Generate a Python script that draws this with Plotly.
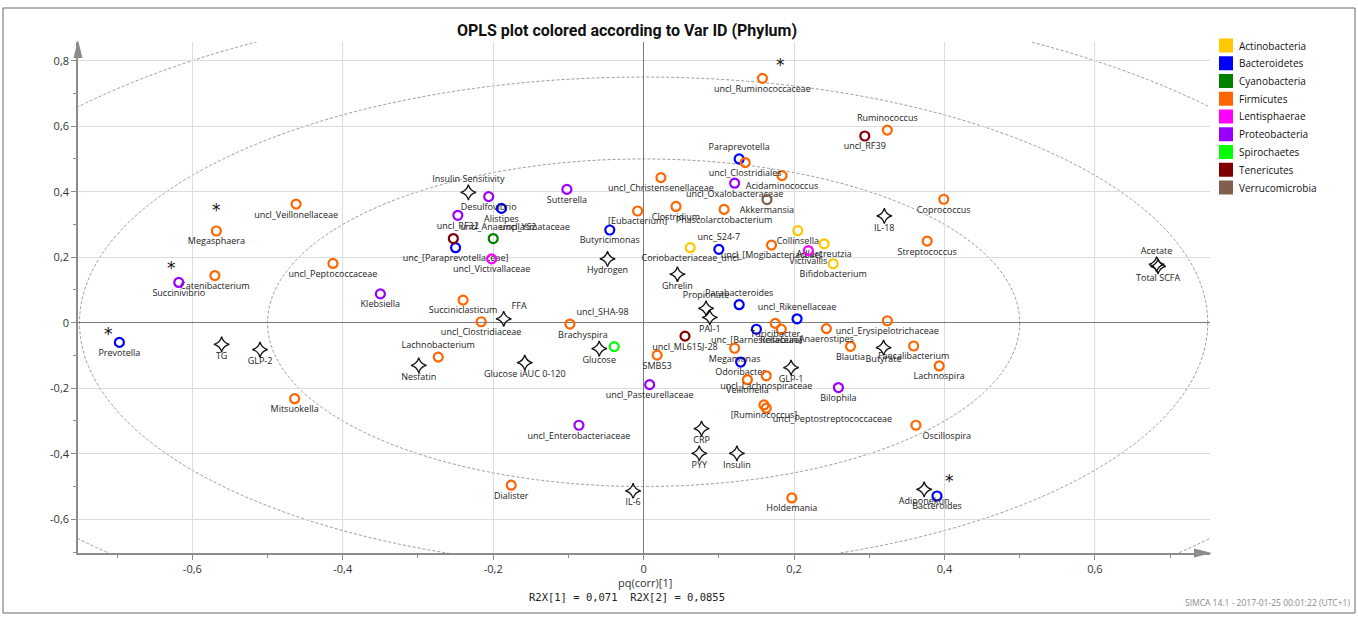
import plotly.graph_objects as go

# ---------------- data ----------------
phyla = ["Actinobacteria", "Bacteroidetes", "Cyanobacteria", "Firmicutes", "Lentisphaerae",
         "Proteobacteria", "Spirochaetes", "Tenericutes", "Verrucomicrobia"]
phylum_colors = ["#FFC800", "#0000FF", "#008000", "#FF6600", "#FF00FF",
                 "#9900FF", "#00FF00", "#800000", "#80604D"]

taxa = [
    "Coriobacteriaceae_uncl", "Collinsella", "Adlercreutzia", "Bifidobacterium",
    "Prevotella", "Alistipes", "unc_[Paraprevotellaceae]", "Butyricimonas", "Paraprevotella", "unc_S24-7",
    "Parabacteroides", "uncl_Rikenellaceae", "unc_[Barnesiellaceae]", "Odoribacter", "Bacteroides",
    "uncl_YS2",
    "uncl_Veillonellaceae", "Megasphaera", "Catenibacterium", "uncl_Peptococcaceae", "Mitsuokella",
    "Succiniclasticum", "uncl_Clostridiaceae", "uncl_SHA-98", "Lachnobacterium", "SMB53", "Dialister",
    "[Eubacterium]", "uncl_Christensenellaceae", "Clostridium", "Phascolarctobacterium", "uncl_Clostridiales",
    "Acidaminococcus", "uncl_Ruminococcaceae", "Ruminococcus", "uncl_[Mogibacteriaceae]", "Coprococcus",
    "Streptococcus", "uncl_Erysipelotrichaceae", "Turicibacter", "Roseburia", "Anaerostipes", "Megamonas",
    "Blautia", "Faecalibacterium", "Lachnospira", "uncl_Lachnospiraceae", "Veillonella", "[Ruminococcus]",
    "uncl_Peptostreptococcaceae", "Oscillospira", "Holdemania",
    "uncl_Victivallaceae", "Victivallis",
    "Succinivibrio", "Desulfovibrio", "uncl_RF32", "Sutterella", "Klebsiella", "uncl_Pasteurellaceae",
    "uncl_Enterobacteriaceae", "uncl_Oxalobacteraceae", "Bilophila",
    "Brachyspira",
    "uncl_Anaeroplasmataceae", "uncl_ML615J-28", "uncl_RF39",
    "Akkermansia",
]
taxa_phylum = (["Actinobacteria"] * 4 + ["Bacteroidetes"] * 11 + ["Cyanobacteria"] * 1 +
               ["Firmicutes"] * 36 + ["Lentisphaerae"] * 2 + ["Proteobacteria"] * 9 +
               ["Spirochaetes"] * 1 + ["Tenericutes"] * 3 + ["Verrucomicrobia"] * 1)
taxa_x = [
    0.062, 0.205, 0.240, 0.252,
    -0.697, -0.189, -0.250, -0.045, 0.127, 0.100, 0.127, 0.204, 0.150, 0.129, 0.390,
    -0.200,
    -0.462, -0.568, -0.570, -0.413, -0.464, -0.240, -0.216, -0.098, -0.273, 0.018, -0.176,
    -0.008, 0.023, 0.043, 0.107, 0.135, 0.184, 0.158, 0.324, 0.170, 0.399,
    0.377, 0.324, 0.175, 0.183, 0.243, 0.121, 0.275, 0.359, 0.393, 0.163, 0.138, 0.160,
    0.163, 0.362, 0.197,
    -0.202, 0.219,
    -0.618, -0.206, -0.247, -0.102, -0.350, 0.008, -0.086, 0.121, 0.259,
    -0.039,
    -0.253, 0.055, 0.294,
    0.164,
]
taxa_y = [
    0.229, 0.281, 0.241, 0.180,
    -0.060, 0.349, 0.229, 0.283, 0.500, 0.224, 0.055, 0.012, -0.020, -0.120, -0.529,
    0.257,
    0.362, 0.280, 0.144, 0.181, -0.232, 0.069, 0.003, -0.004, -0.105, -0.099, -0.496,
    0.341, 0.443, 0.355, 0.346, 0.489, 0.449, 0.746, 0.588, 0.237, 0.377,
    0.249, 0.006, -0.002, -0.020, -0.018, -0.078, -0.072, -0.071, -0.132, -0.162, -0.174, -0.251,
    -0.261, -0.313, -0.535,
    0.195, 0.220,
    0.123, 0.385, 0.328, 0.407, 0.088, -0.189, -0.313, 0.426, -0.198,
    -0.073,
    0.257, -0.041, 0.570,
    0.376,
]

clinical = ["Insulin Sensitivity", "Hydrogen", "FFA", "TG", "GLP-2", "Nesfatin", "Glucose iAUC 0-120",
            "Glucose", "IL-6", "Ghrelin", "Propionate", "PAI-1", "IL-18", "Acetate", "Total SCFA",
            "GLP-1", "Butyrate", "CRP", "PYY", "Insulin", "Adiponektin"]
clinical_x = [-0.233, -0.048, -0.186, -0.561, -0.510, -0.299, -0.158, -0.059, -0.014, 0.045, 0.083,
              0.088, 0.320, 0.682, 0.684, 0.196, 0.319, 0.077, 0.074, 0.124, 0.373]
clinical_y = [0.398, 0.195, 0.012, -0.066, -0.082, -0.130, -0.122, -0.079, -0.513, 0.148, 0.044,
              0.016, 0.326, 0.178, 0.172, -0.137, -0.076, -0.323, -0.399, -0.399, -0.509]

significant = ["Megasphaera", "Succinivibrio", "Prevotella", "uncl_Ruminococcaceae", "Bacteroides"]

x_ticks = [-0.6, -0.4, -0.2, 0, 0.2, 0.4, 0.6]
x_ticktext = ["-0,6", "-0,4", "-0,2", "0", "0,2", "0,4", "0,6"]
y_ticks = [-0.6, -0.4, -0.2, 0, 0.2, 0.4, 0.6, 0.8]
y_ticktext = ["-0,6", "-0,4", "-0,2", "0", "0,2", "0,4", "0,6", "0,8"]
circle_radii = [0.5, 0.75, 1.0]

title_text = "OPLS plot colored according to Var ID (Phylum)"
x_title = "pq(corr)[1]"
r2x_text = "R2X[1] = 0,071  R2X[2] = 0,0855"
footer_text = "SIMCA 14.1 - 2017-01-25 00:01:22 (UTC+1)"

# ---------------- styles ----------------
label_pos = {
    "Insulin Sensitivity": "top center", "Ruminococcus": "top center", "Paraprevotella": "top center",
    "unc_S24-7": "top center", "Parabacteroides": "top center", "uncl_Rikenellaceae": "top center",
    "Propionate": "top center", "Acetate": "top center", "Lachnobacterium": "top center",
    "Brachyspira": "top left", "uncl_Anaeroplasmataceae": "top right", "uncl_YS2": "top right",
    "FFA": "top right", "uncl_SHA-98": "top right", "Oscillospira": "bottom right",
    "uncl_Peptostreptococcaceae": "bottom right",
}
star_offsets = {  # pixel offsets of the significance asterisks
    "Megasphaera": (0, 21), "Succinivibrio": (-7, 14), "Prevotella": (-11, 8),
    "uncl_Ruminococcaceae": (18, 13), "Bacteroides": (13, 15),
}
FONT = "Open Sans"
XR = [-0.752, 0.753]
YR = [-0.703, 0.857]
L, R, T, B = 78, 148, 42, 64
W, H = 1358, 617
PW, PH = W - L - R, H - T - B
LEG_X, LEG_Y0, LEG_DY, LEG_SQ = 1219, 45.5, 17.75, 14


def px_x(p):
    return (p - L) / PW


def px_y(p):
    return (H - B - p) / PH


fig = go.Figure()

for ph, col in zip(phyla, phylum_colors):
    idx = [i for i, p in enumerate(taxa_phylum) if p == ph]
    names = [taxa[i] for i in idx]
    fig.add_trace(go.Scatter(
        x=[taxa_x[i] for i in idx], y=[taxa_y[i] for i in idx],
        mode="markers+text", text=names, name=ph,
        textposition=[label_pos.get(n, "bottom center") for n in names],
        textfont=dict(family=FONT, size=9, color="#222222"),
        marker=dict(symbol="circle-open", size=9, color=col, line=dict(width=2.2, color=col)),
        showlegend=False, cliponaxis=False, hoverinfo="text"))

fig.add_trace(go.Scatter(
    x=clinical_x, y=clinical_y, mode="markers+text", text=clinical,
    textposition=[label_pos.get(n, "bottom center") for n in clinical],
    textfont=dict(family=FONT, size=9, color="#222222"),
    marker=dict(symbol="star-diamond-open", size=11, color="#111111", line=dict(width=1.3)),
    showlegend=False, cliponaxis=False, hoverinfo="text"))

annotations = []
for n in significant:
    i = taxa.index(n)
    dx, dy = star_offsets[n]
    annotations.append(dict(x=taxa_x[i], y=taxa_y[i], xref="x", yref="y", text="*", showarrow=False,
                            xshift=dx, yshift=dy, xanchor="center", yanchor="middle",
                            font=dict(family="DejaVu Sans", size=17, color="#111")))

annotations += [
    dict(text=x_title, xref="paper", yref="paper", x=px_x(645), y=px_y(582), showarrow=False,
         xanchor="center", yanchor="middle", font=dict(family=FONT, size=11, color="#333")),
    dict(text=r2x_text, xref="paper", yref="paper", x=px_x(627), y=px_y(597), showarrow=False,
         xanchor="center", yanchor="middle",
         font=dict(family="DejaVu Sans Mono", size=10.5, color="#222")),
    dict(text=footer_text, xref="paper", yref="paper", x=px_x(1352), y=px_y(603), xanchor="right",
         yanchor="middle", showarrow=False, font=dict(family=FONT, size=8.5, color="#8a8a8a")),
]

shapes = [
    dict(type="circle", xref="x", yref="y", x0=-r, x1=r, y0=-r, y1=r,
         line=dict(color="#9a9a9a", width=1, dash="3px,2px"), layer="below")
    for r in circle_radii
]
shapes += [
    # axis arrowheads
    dict(type="path", xref="paper", yref="paper", xsizemode="pixel", ysizemode="pixel",
         xanchor=0, yanchor=1, path="M -4.5,-16 L 0,2 L 4.5,-16 Z",
         fillcolor="#8c8c8c", line=dict(width=0)),
    dict(type="path", xref="paper", yref="paper", xsizemode="pixel", ysizemode="pixel",
         xanchor=1, yanchor=0, path="M -16,-4.5 L 2,0 L -16,4.5 Z",
         fillcolor="#8c8c8c", line=dict(width=0)),
    # outer frame
    dict(type="rect", xref="paper", yref="paper", x0=px_x(3), x1=px_x(1355), y0=px_y(613), y1=px_y(8),
         line=dict(color="#666666", width=1), layer="below"),
]

# legend (colour key for the phyla)
for k, (ph, col) in enumerate(zip(phyla, phylum_colors)):
    cy = LEG_Y0 + k * LEG_DY
    shapes.append(dict(type="rect", xref="paper", yref="paper",
                       x0=px_x(LEG_X), x1=px_x(LEG_X + LEG_SQ),
                       y0=px_y(cy + LEG_SQ / 2), y1=px_y(cy - LEG_SQ / 2),
                       fillcolor=col, line=dict(width=0)))
    annotations.append(dict(text=ph, xref="paper", yref="paper", x=px_x(LEG_X + LEG_SQ + 4),
                            y=px_y(cy), xanchor="left", yanchor="middle", showarrow=False,
                            font=dict(family=FONT, size=10, color="#111")))

axis_common = dict(showgrid=True, gridcolor="#dcdcdc", gridwidth=1, zeroline=True,
                   zerolinecolor="#7a7a7a", zerolinewidth=1, showline=True, linecolor="#8c8c8c",
                   linewidth=1.5, ticks="outside", ticklen=5, tickcolor="#8c8c8c",
                   tickfont=dict(family=FONT, size=11, color="#333"),
                   minor=dict(dtick=0.1, tick0=0, ticks="outside", ticklen=3, tickcolor="#8c8c8c",
                              showgrid=False))

fig.update_layout(
    width=W, height=H, autosize=False,
    margin=dict(l=L, r=R, t=T, b=B),
    paper_bgcolor="white", plot_bgcolor="white",
    title=dict(text="<b>" + title_text + "</b>", x=px_x(627), xref="paper", xanchor="center",
               y=1 - 30 / H, yref="container", yanchor="middle",
               font=dict(family="Roboto", size=16, color="#111")),
    xaxis=dict(range=XR, tickvals=x_ticks, ticktext=x_ticktext, **axis_common),
    yaxis=dict(range=YR, tickvals=y_ticks, ticktext=y_ticktext, **axis_common),
    showlegend=False,
    annotations=annotations, shapes=shapes, hovermode="closest",
)

# remove the default page margin so figure pixels line up with the window pixels
fig.write_html("out.html", config={"displayModeBar": False},
               post_script="document.body.style.margin='0px';")
